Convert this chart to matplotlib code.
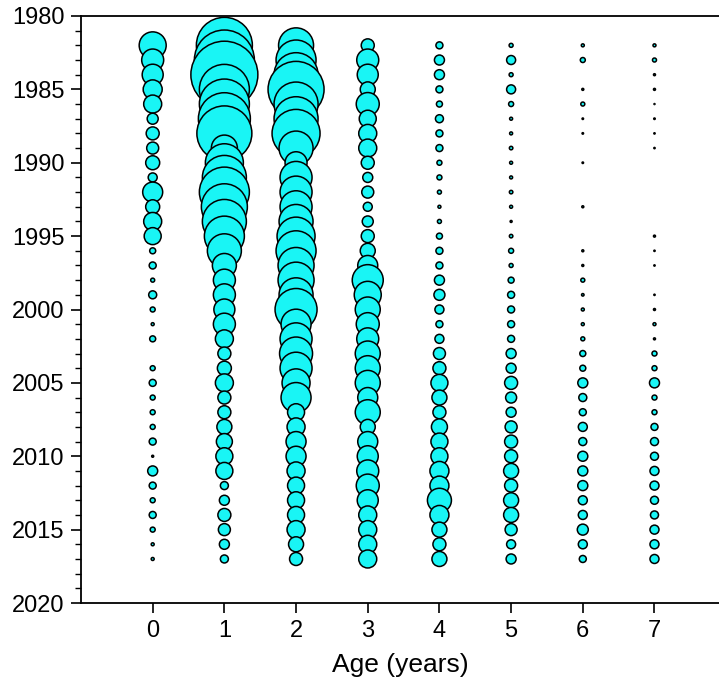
import numpy as np
import matplotlib
matplotlib.use("Agg")
import matplotlib.pyplot as plt

plt.rcParams['font.family'] = ['Liberation Sans', 'DejaVu Sans']

# Survey years (rows) and ages (columns)
years = list(range(1982, 2018))
ages = [0, 1, 2, 3, 4, 5, 6, 7]

# Relative catch index per age, one value per year 1982..2017 (bubble diameter scale)
age0 = [27, 22, 21, 19, 18, 11, 13, 12, 14, 9, 20, 14, 18, 17, 6, 7, 4, 8,
        5, 3, 6, 0, 5, 7, 5, 5, 5, 7, 2, 10, 7, 5, 7, 5, 3, 3]
age1 = [56, 60, 67, 50, 50, 52, 55, 26, 38, 44, 50, 46, 44, 40, 34, 24, 22, 22,
        21, 22, 18, 13, 14, 18, 13, 13, 15, 16, 17, 17, 8, 10, 13, 12, 10, 8]
age2 = [35, 40, 44, 56, 44, 44, 48, 34, 22, 32, 32, 32, 34, 38, 40, 36, 36, 34,
        42, 30, 32, 33, 32, 28, 30, 17, 18, 20, 20, 18, 17, 17, 17, 18, 15, 13]
age3 = [13, 22, 21, 15, 23, 17, 18, 18, 13, 10, 12, 9, 11, 13, 15, 20, 31, 27,
        25, 23, 22, 25, 25, 25, 20, 25, 15, 20, 21, 22, 23, 21, 18, 18, 18, 18]
age4 = [7, 10, 10, 7, 6, 8, 7, 7, 5, 5, 4, 3, 4, 6, 7, 7, 10, 11,
        9, 7, 9, 12, 13, 17, 15, 13, 16, 17, 17, 19, 19, 24, 19, 15, 13, 15]
age5 = [4, 9, 4, 9, 5, 3, 3, 3.5, 3, 3, 3.5, 3, 2, 3.5, 5, 4, 6, 7,
        7, 7, 7, 10, 10, 13, 11, 10, 12, 13, 13, 15, 13, 15, 15, 12, 9, 10]
age6 = [3, 5, 0, 2, 4, 1.5, 1.5, 0, 1.5, 0, 0, 2, 0, 0, 2, 2, 4, 2.5,
        3, 3, 4, 6, 6, 10, 8, 7, 9, 8, 10, 10, 10, 9, 9, 11, 9, 7]
age7 = [3, 4, 2, 2, 1, 1.5, 1.3, 1.3, 0, 0, 0, 0, 0, 2, 1.3, 1.3, 0, 1.3,
        2, 3, 2, 5, 5, 10, 5, 5, 7, 8, 8, 9, 9, 8, 8, 9, 9, 9]

catch = [age0, age1, age2, age3, age4, age5, age6, age7]

fig = plt.figure(figsize=(7.19, 6.93), dpi=100)
ax = fig.add_axes([81 / 719, 1 - 603 / 693, 1 - 81 / 719, 587 / 693])

yr = np.array(years)
for age, vals in zip(ages, catch):
    v = np.array(vals, dtype=float)
    keep = v > 0
    ax.scatter(np.full(keep.sum(), age), yr[keep], s=(v[keep] * 0.72) ** 2,
               c='#19F5F5', edgecolors='black', linewidths=1.1)

ax.set_xlim(-1, 7.9)
ax.set_ylim(2020, 1980)
ax.set_xticks(ages)
ax.set_yticks(range(1980, 2021, 5))
ax.set_yticks(range(1980, 2021), minor=True)
ax.spines['right'].set_visible(False)
for s in ['left', 'top', 'bottom']:
    ax.spines[s].set_linewidth(1.3)
ax.tick_params(axis='both', which='major', direction='out', length=7, width=1.2,
               labelsize=17, pad=5)
ax.tick_params(axis='y', which='minor', direction='out', length=4, width=1.0)
ax.set_xlabel('Age (years)', fontsize=19, labelpad=8)

fig.savefig('out.png', dpi=100)
